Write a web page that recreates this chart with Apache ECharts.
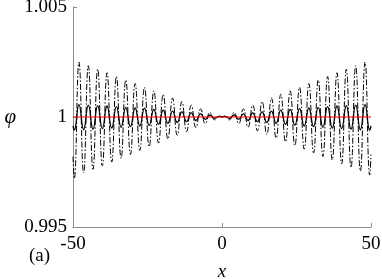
<!DOCTYPE html>
<html>
<head>
<meta charset="utf-8">
<script src="https://cdn.jsdelivr.net/npm/echarts@6/dist/echarts.min.js"></script>
<style>
  html, body { margin: 0; padding: 0; background: #fff; }
  #plot1 { width: 382px; height: 279px; }
</style>
</head>
<body>
<div id="plot1"></div>
<script>
// extrema positions (peaks / troughs), plus the ends
const xPos = [-50, -49.57, -48.00, -46.43, -44.86, -43.29, -41.72, -40.15, -38.58, -37.00, -35.43,
  -33.86, -32.29, -30.72, -29.15, -27.58, -26.01, -24.44, -22.87, -21.30, -19.73, -18.16,
  -16.59, -15.02, -13.45, -11.88, -10.31, -8.74, -7.17, -5.60, -4.03, -2.46, -0.89, 0,
  0.89, 2.46, 4.03, 5.60, 7.17, 8.74, 10.31, 11.88, 13.45, 15.02, 16.59, 18.16, 19.73,
  21.30, 22.87, 24.44, 26.01, 27.58, 29.15, 30.72, 32.29, 33.86, 35.43, 37.00, 38.58,
  40.15, 41.72, 43.29, 44.86, 46.43, 48.00, 49.57, 50];

// dash-dot curve
const dashVals = [0.9982, 0.9972, 1.0025, 0.99745, 1.00233, 0.99762, 1.00217, 0.99778, 1.00201, 0.99795, 1.00184,
  0.99812, 1.00168, 0.9983, 1.00152, 0.99848, 1.00135, 0.99865, 1.00119, 0.99882, 1.00103, 0.999,
  1.00086, 0.99917, 1.0007, 0.99934, 1.00054, 0.99952, 1.00037, 0.9997, 1.00021, 0.99987, 1.00005, 1.0,
  1.00005, 0.99987, 1.00021, 0.9997, 1.00037, 0.99954, 1.00054, 0.99937, 1.0007, 0.9992, 1.00086, 0.99904, 1.00103,
  0.99887, 1.00119, 0.9987, 1.00135, 0.99854, 1.00152, 0.99837, 1.00168, 0.9982, 1.00184, 0.99804, 1.00201,
  0.99787, 1.00217, 0.9977, 1.00233, 0.99754, 1.0025, 0.99736, 0.9983];

// solid curve
const solidVals = [0.9996, 0.9994, 1.00056, 0.99942, 1.00054, 0.99944, 1.00052, 0.99947, 1.0005, 0.9995, 1.00047,
  0.99953, 1.00044, 0.99956, 1.00041, 0.99959, 1.0004, 0.99962, 1.00035, 0.99967, 1.00031, 0.99971,
  1.00027, 0.99975, 1.00023, 0.99979, 1.00019, 0.99984, 1.00014, 0.99989, 1.00009, 0.99994, 1.00003, 1.0,
  1.00003, 0.99994, 1.00009, 0.99989, 1.00014, 0.99984, 1.00019, 0.99979, 1.00023, 0.99975, 1.00027, 0.99971, 1.00031,
  0.99967, 1.00035, 0.99963, 1.00038, 0.99959, 1.00041, 0.99956, 1.00044, 0.99953, 1.00047, 0.9995, 1.0005,
  0.99947, 1.00052, 0.99944, 1.00054, 0.99942, 1.00056, 0.9994, 0.9996];

const refX = [-50, 50];
const refVals = [1, 1];

const xTicks = [-50, 0, 50];
const yTicks = [0.995, 1, 1.005];

function pairs(xs, ys) {
  return xs.map(function (x, i) { return [x, ys[i]]; });
}

const font = 'Liberation Serif';
const axisGray = '#8c8c8c';

const myChart = echarts.init(document.getElementById('plot1'), null, { renderer: 'canvas' });
const option = {
  animation: false,
  grid: { left: 73, right: 11, top: 7, bottom: 52, containLabel: false, outerBoundsMode: 'none' },
  xAxis: {
    type: 'value',
    min: xTicks[0],
    max: xTicks[2],
    interval: xTicks[1] - xTicks[0],
    name: 'x',
    nameLocation: 'middle',
    nameGap: 35,
    nameMoveOverlap: false,
    nameTextStyle: { fontFamily: font, fontStyle: 'italic', fontSize: 19, color: '#000' },
    axisLine: { show: true, onZero: false, lineStyle: { color: axisGray, width: 1 } },
    axisTick: { show: true, inside: true, length: 4, lineStyle: { color: axisGray } },
    axisLabel: { fontFamily: font, fontSize: 19, color: '#000', margin: 8 },
    splitLine: { show: false }
  },
  yAxis: {
    type: 'value',
    min: yTicks[0],
    max: yTicks[2],
    interval: 0.005,
    name: '\u03c6',
    nameLocation: 'middle',
    nameRotate: 0,
    nameGap: 57,
    nameMoveOverlap: false,
    nameTextStyle: { fontFamily: font, fontStyle: 'italic', fontSize: 21, color: '#000' },
    axisLine: { show: true, onZero: false, lineStyle: { color: axisGray, width: 1 } },
    axisTick: { show: true, inside: true, length: 4, lineStyle: { color: axisGray } },
    axisLabel: {
      fontFamily: font, fontSize: 19, color: '#000', margin: 6,
      padding: [4, 0, 0, 0],
      verticalAlignMinLabel: 'middle',
      verticalAlignMaxLabel: 'middle',
      formatter: function (v) { return String(+v.toFixed(3)); }
    },
    splitLine: { show: false }
  },
  graphic: [{
    type: 'text',
    left: 29,
    top: 247,
    style: { text: '(a)', font: '19px "Liberation Serif"', fill: '#000' }
  }],
  series: [
    {
      type: 'line',
      data: pairs(xPos, dashVals),
      smooth: 0.5,
      showSymbol: false,
      lineStyle: { color: '#000', width: 1, type: [6, 2, 1.5, 2] }
    },
    {
      type: 'line',
      data: pairs(xPos, solidVals),
      smooth: 0.5,
      showSymbol: false,
      lineStyle: { color: '#000', width: 1.3 }
    },
    {
      type: 'line',
      data: pairs(refX, refVals),
      showSymbol: false,
      lineStyle: { color: '#ff0000', width: 1.1 }
    }
  ]
};
myChart.setOption(option);
</script>
</body>
</html>
